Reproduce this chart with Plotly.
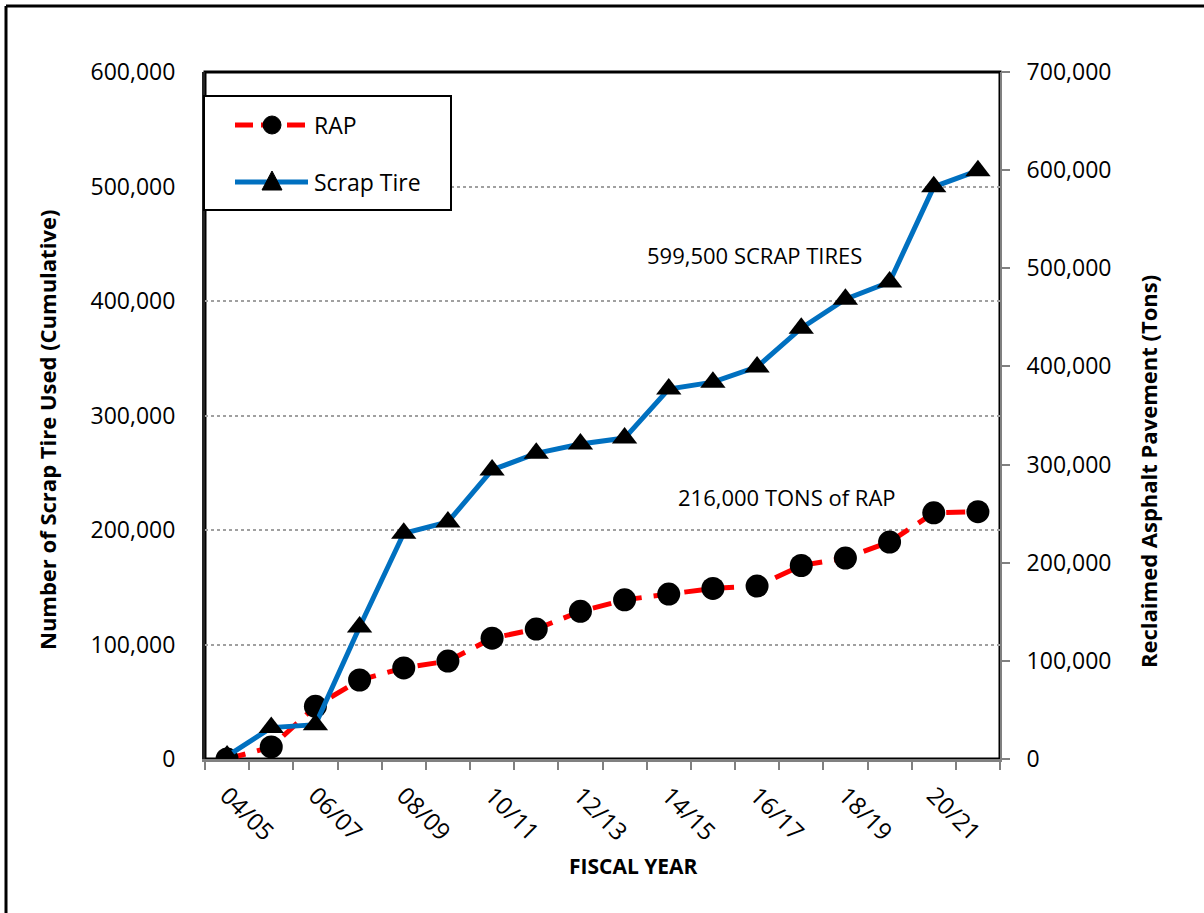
import plotly.graph_objects as go

FONT = "'Open Sans', sans-serif"

# fiscal years shown on the x axis
years = ["04/05", "05/06", "06/07", "07/08", "08/09", "09/10", "10/11", "11/12", "12/13",
         "13/14", "14/15", "15/16", "16/17", "17/18", "18/19", "19/20", "20/21", "21/22"]

# cumulative reclaimed asphalt pavement (tons)
rap_tons = [0, 10500, 46000, 69000, 79500, 85500, 105500, 113500, 129000,
            139000, 144000, 149000, 151000, 169000, 175500, 189500, 215000, 216000]

# cumulative scrap tires used
scrap_tires = [3000, 32000, 35000, 134500, 230000, 241500, 294500, 311500, 321000,
               327000, 377000, 384000, 399500, 439000, 468500, 486000, 583000, 599500]

rap_ticks = list(range(0, 600001, 100000))
tire_ticks = list(range(0, 700001, 100000))
tick_text = [y if i % 2 == 0 else "" for i, y in enumerate(years)]

RED, BLUE = "#FF0000", "#0070C0"

# page geometry
W, H = 1204, 913
ML, MR, MT, MB = 205, 204, 72, 154
PW, PH = W - ML - MR, H - MT - MB


def px_x(x):
    return (x - ML) / PW


def px_y(y):
    return (H - MB - y) / PH


fig = go.Figure()

fig.add_trace(go.Scatter(
    x=years, y=rap_tons, name="RAP", yaxis="y",
    mode="lines+markers",
    line=dict(color=RED, width=5, dash="19px,12px"),
    marker=dict(symbol="circle", size=23, color="black"),
))
fig.add_trace(go.Scatter(
    x=years, y=scrap_tires, name="Scrap Tire", yaxis="y2",
    mode="lines+markers",
    line=dict(color=BLUE, width=5),
    marker=dict(symbol="triangle-up", size=22, color="black"),
))

fig.add_annotation(x=11.95, y=440000, xref="x", yref="y", text="599,500 SCRAP TIRES",
                   showarrow=False, font=dict(size=22, color="black"))
fig.add_annotation(x=12.68, y=229000, xref="x", yref="y", text="216,000 TONS of RAP",
                   showarrow=False, font=dict(size=22, color="black"))

# axis titles
title_kw = dict(xref="paper", yref="paper", showarrow=False, xanchor="center", yanchor="middle")
fig.add_annotation(x=px_x(47), y=px_y(430), textangle=-90,
                   text="<b>Number of Scrap Tire Used (Cumulative)</b>",
                   font=dict(size=22, color="black"), **title_kw)
fig.add_annotation(x=px_x(1148), y=px_y(472), textangle=-90,
                   text="<b>Reclaimed Asphalt Pavement (Tons)</b>",
                   font=dict(size=22, color="black"), **title_kw)
fig.add_annotation(x=px_x(633), y=px_y(866), text="<b>FISCAL YEAR</b>",
                   font=dict(size=21, color="black"), **title_kw)

# plot area frame and outer page frame
fig.add_shape(type="rect", xref="paper", yref="paper", x0=0, x1=1, y0=0, y1=1,
              line=dict(color="black", width=3), layer="below")
fig.add_shape(type="line", xref="paper", yref="paper", x0=px_x(6), x1=px_x(W + 10),
              y0=px_y(6), y1=px_y(6), line=dict(color="black", width=3))
fig.add_shape(type="line", xref="paper", yref="paper", x0=px_x(6), x1=px_x(6),
              y0=px_y(6), y1=px_y(H + 10), line=dict(color="black", width=3))

# legend box drawn by hand so the sample lines can be as long as in the original
fig.add_shape(type="rect", xref="paper", yref="paper",
              x0=px_x(204), x1=px_x(451), y0=px_y(210), y1=px_y(96),
              fillcolor="white", line=dict(color="black", width=2), layer="above")
legend_rows = [("RAP", 125, RED, "18px,8px", "circle"), ("Scrap Tire", 182, BLUE, "solid", "triangle")]
for label, ry, color, dash, sym in legend_rows:
    fig.add_shape(type="line", xref="paper", yref="paper",
                  x0=px_x(235), x1=px_x(308), y0=px_y(ry), y1=px_y(ry),
                  line=dict(color=color, width=5, dash=dash), layer="above")
    if sym == "circle":
        fig.add_shape(type="circle", xref="paper", yref="paper",
                      xsizemode="pixel", ysizemode="pixel",
                      xanchor=px_x(272), yanchor=px_y(ry),
                      x0=-9, x1=9, y0=-9, y1=9,
                      fillcolor="black", line=dict(color="black", width=1), layer="above")
    else:
        fig.add_shape(type="path", xref="paper", yref="paper",
                      xsizemode="pixel", ysizemode="pixel",
                      xanchor=px_x(272), yanchor=px_y(ry),
                      path="M-10,-8 L10,-8 L0,11 Z",
                      fillcolor="black", line=dict(color="black", width=1), layer="above")
    fig.add_annotation(x=px_x(312), y=px_y(ry), xref="paper", yref="paper", text=label,
                       showarrow=False, xanchor="left", yanchor="middle",
                       font=dict(size=23, color="black"))

fig.update_layout(
    width=W, height=H,
    margin=dict(l=ML, r=MR, t=MT, b=MB, autoexpand=False),
    paper_bgcolor="white", plot_bgcolor="white",
    font=dict(family=FONT, size=22, color="black"),
    showlegend=False,
    xaxis=dict(
        type="category", tickmode="array", tickvals=years, ticktext=tick_text,
        range=[-0.5, len(years) - 0.5],
        tickson="boundaries", ticks="outside", ticklen=8, tickwidth=2, tickcolor="#808080",
        tickangle=45, ticklabelstandoff=10,
        showline=True, linecolor="#808080", linewidth=3,
        showgrid=False, zeroline=False, automargin=False,
        tickfont=dict(size=24),
    ),
    yaxis=dict(
        range=[0, 600000], tickvals=rap_ticks, tickformat=",",
        showline=True, linecolor="#222222", linewidth=3,
        showgrid=True, gridcolor="#A0A0A0", gridwidth=1.5, griddash="dot",
        zeroline=False, ticks="", ticklabelstandoff=22, automargin=False,
        tickfont=dict(size=23),
    ),
    yaxis2=dict(
        range=[0, 700000], tickvals=tire_ticks, tickformat=",",
        overlaying="y", side="right",
        showline=True, linecolor="#808080", linewidth=2,
        ticks="outside", ticklen=8, tickwidth=2, tickcolor="#808080",
        showgrid=False, zeroline=False, ticklabelstandoff=12, automargin=False,
        tickfont=dict(size=23),
    ),
)

fig.write_html("out.html", config={"displayModeBar": False},
               post_script="document.body.style.margin = '0px';")
